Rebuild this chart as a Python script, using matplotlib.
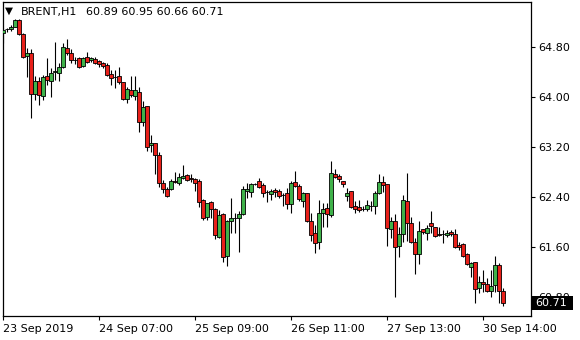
import numpy as np
import matplotlib
matplotlib.use("Agg")
import matplotlib.pyplot as plt
from matplotlib.patches import Rectangle
from matplotlib.transforms import blended_transform_factory

# BRENT H1 candles (oldest -> newest)
opens = [65.02, 65.09, 65.09, 65.12, 65.23, 65.01, 64.66, 64.70, 64.05, 64.26,
         64.02, 64.34, 64.26, 64.40, 64.38, 64.48, 64.78, 64.70, 64.59, 64.62,
         64.50, 64.64, 64.59, 64.61, 64.58, 64.54, 64.51, 64.37, 64.32, 64.34,
         64.24, 63.97, 64.11, 64.02, 64.08, 63.60, 63.86, 63.23, 63.26, 63.07,
         62.62, 62.53, 62.53, 62.66, 62.62, 62.70, 62.75, 62.70, 62.69, 62.66,
         62.35, 62.08, 62.32, 62.21, 61.76, 62.13, 61.46, 62.02, 62.06, 62.06,
         62.13, 62.50, 62.48, 62.61, 62.66, 62.59, 62.48, 62.45, 62.51, 62.50,
         62.43, 62.46, 62.29, 62.64, 62.58, 62.34, 62.46, 62.02, 61.82, 61.68,
         62.14, 62.22, 62.11, 62.77, 62.74, 62.66, 62.42, 62.50, 62.26, 62.24,
         62.21, 62.21, 62.26, 62.26, 62.46, 62.64, 62.61, 61.89, 62.02, 61.62,
         61.81, 62.34, 61.98, 61.68, 61.49, 61.89, 61.82, 61.98, 61.92, 61.81,
         61.81, 61.79, 61.84, 61.81, 61.63, 61.65, 61.49, 61.28, 61.36, 60.94,
         61.04, 61.01, 60.90, 60.99, 61.31, 60.89]
highs = [65.10, 65.10, 65.15, 65.25, 65.25, 65.02, 64.78, 64.77, 64.34, 64.32,
         64.35, 64.62, 64.46, 64.88, 64.54, 64.86, 64.93, 64.77, 64.64, 64.64,
         64.64, 64.72, 64.64, 64.64, 64.59, 64.56, 64.54, 64.43, 64.43, 64.48,
         64.24, 64.16, 64.34, 64.34, 64.16, 63.94, 63.86, 63.39, 63.26, 63.12,
         62.67, 62.56, 62.69, 62.80, 62.78, 62.91, 62.77, 62.77, 62.70, 62.69,
         62.37, 62.30, 62.34, 62.22, 62.19, 62.14, 62.03, 62.38, 62.14, 62.18,
         62.58, 62.62, 62.62, 62.62, 62.70, 62.62, 62.51, 62.53, 62.54, 62.53,
         62.46, 62.54, 62.66, 62.82, 62.61, 62.48, 62.46, 62.14, 61.95, 62.35,
         62.30, 62.30, 62.98, 62.85, 62.77, 62.66, 62.54, 62.50, 62.34, 62.35,
         62.26, 62.35, 62.34, 62.50, 62.77, 62.74, 62.61, 62.08, 62.13, 61.92,
         62.43, 62.78, 62.08, 61.74, 62.02, 61.89, 61.95, 62.18, 61.92, 61.92,
         61.87, 61.87, 61.87, 61.89, 61.68, 61.66, 61.50, 61.36, 61.36, 61.14,
         61.23, 61.10, 61.23, 61.46, 61.34, 60.95]
lows = [64.86, 65.04, 65.06, 65.12, 64.99, 64.62, 64.32, 63.66, 63.95, 63.87,
        63.95, 64.19, 64.00, 64.27, 64.26, 64.46, 64.67, 64.54, 64.53, 64.46,
        64.48, 64.54, 64.56, 64.53, 64.48, 64.46, 64.34, 64.19, 64.14, 64.21,
        63.95, 63.90, 64.00, 63.95, 63.44, 63.54, 63.14, 63.12, 62.77, 62.56,
        62.46, 62.40, 62.51, 62.62, 62.59, 62.69, 62.66, 62.64, 62.50, 62.24,
        62.03, 62.03, 62.06, 61.73, 61.74, 61.36, 61.30, 61.82, 61.82, 61.52,
        62.11, 62.38, 62.40, 62.59, 62.54, 62.40, 62.32, 62.35, 62.40, 62.38,
        62.26, 62.21, 62.14, 62.56, 62.34, 62.24, 62.00, 61.70, 61.50, 61.57,
        61.92, 61.92, 62.08, 62.70, 62.64, 62.56, 62.34, 62.22, 62.14, 62.16,
        62.18, 62.18, 62.18, 62.13, 62.45, 62.48, 61.62, 61.74, 60.80, 61.44,
        61.68, 61.70, 61.66, 61.17, 61.33, 61.81, 61.71, 61.82, 61.76, 61.78,
        61.66, 61.76, 61.78, 61.58, 61.55, 61.44, 61.31, 61.12, 60.70, 60.86,
        60.88, 60.88, 60.80, 60.88, 60.70, 60.66]
closes = [65.07, 65.09, 65.12, 65.23, 65.01, 64.64, 64.70, 64.05, 64.26, 64.03,
          64.32, 64.27, 64.38, 64.42, 64.48, 64.80, 64.70, 64.59, 64.59, 64.48,
          64.62, 64.56, 64.62, 64.54, 64.53, 64.50, 64.35, 64.30, 64.32, 64.24,
          63.97, 64.13, 64.03, 64.11, 63.60, 63.84, 63.20, 63.26, 63.07, 62.62,
          62.53, 62.42, 62.66, 62.64, 62.72, 62.74, 62.67, 62.69, 62.62, 62.32,
          62.06, 62.30, 62.21, 61.79, 62.11, 61.44, 62.02, 62.06, 62.06, 62.13,
          62.53, 62.53, 62.61, 62.61, 62.56, 62.46, 62.48, 62.50, 62.48, 62.42,
          62.43, 62.29, 62.62, 62.58, 62.37, 62.46, 62.02, 61.79, 61.66, 62.14,
          62.21, 62.13, 62.78, 62.72, 62.69, 62.61, 62.46, 62.24, 62.21, 62.19,
          62.21, 62.27, 62.26, 62.46, 62.64, 62.59, 61.90, 62.02, 61.60, 61.81,
          62.35, 61.98, 61.68, 61.49, 61.86, 61.84, 61.90, 61.94, 61.78, 61.79,
          61.81, 61.82, 61.81, 61.60, 61.60, 61.46, 61.33, 61.34, 60.93, 61.04,
          61.01, 60.90, 60.98, 61.31, 60.90, 60.71]

symbol = "BRENT,H1"
price_ticks = [64.80, 64.00, 63.20, 62.40, 61.60, 60.80]
time_tick_bars = [0, 24, 48, 72, 96, 120]
time_tick_labels = ["23 Sep 2019", "24 Sep 07:00", "25 Sep 09:00",
                    "26 Sep 11:00", "27 Sep 13:00", "30 Sep 14:00"]

BULL = "#3fb24a"
BEAR = "#e8201a"
FS = 8

o = np.array(opens)
h = np.array(highs)
l = np.array(lows)
c = np.array(closes)
x = np.arange(len(o))

fig = plt.figure(figsize=(5.8, 3.4), dpi=100)
ax = fig.add_axes([2.5 / 580, 24 / 340, 528.5 / 580, 314 / 340])

# wicks first, bodies on top
ax.vlines(x, l, h, color="black", linewidth=0.8, zorder=2)
body_bottom = np.minimum(o, c)
body_height = np.abs(c - o)
body_color = np.where(c >= o, BULL, BEAR)
ax.bar(x, body_height, bottom=body_bottom, width=0.78, color=body_color,
       edgecolor="black", linewidth=0.6, zorder=3)

ax.set_xlim(-0.125, -0.125 + 528.5 / 4)
ax.set_ylim(60.496, 65.52)

ax.yaxis.tick_right()
ax.set_yticks(price_ticks)
ax.set_yticklabels([f"{p:.2f}" for p in price_ticks])
ax.set_xticks(time_tick_bars)
ax.set_xticklabels(time_tick_labels, ha="left")
ax.tick_params(axis="both", direction="out", length=3, width=0.8,
               color="black", labelsize=FS, labelcolor="black", pad=2)
ax.tick_params(axis="x", pad=3)
for sp in ax.spines.values():
    sp.set_linewidth(0.9)
    sp.set_color("black")

# last price marker on the price scale (sits over the 60.80 label, like the terminal does)
last = c[-1]
tr = blended_transform_factory(ax.transAxes, ax.transData)
ax.add_patch(Rectangle((1.0, last - 0.11), 42 / 528.5, 0.21, transform=tr,
                       facecolor="black", edgecolor="none", clip_on=False, zorder=5))
ax.text(1.0 + 4 / 528.5, last - 0.005, f"{last:.2f}", transform=tr, color="white",
        fontsize=FS, va="center", ha="left", zorder=6)

# header: symbol + last bar OHLC
fig.text(5 / 580, 1 - 11 / 340, "\u25bc", fontsize=7.5, va="center", ha="left")
fig.text(21 / 580, 1 - 12 / 340, symbol, fontsize=FS, va="center", ha="left")
fig.text(86 / 580, 1 - 12 / 340,
         f"{o[-1]:.2f} {h[-1]:.2f} {l[-1]:.2f} {c[-1]:.2f}",
         fontsize=FS, va="center", ha="left")

fig.savefig("out.png", dpi=100)
